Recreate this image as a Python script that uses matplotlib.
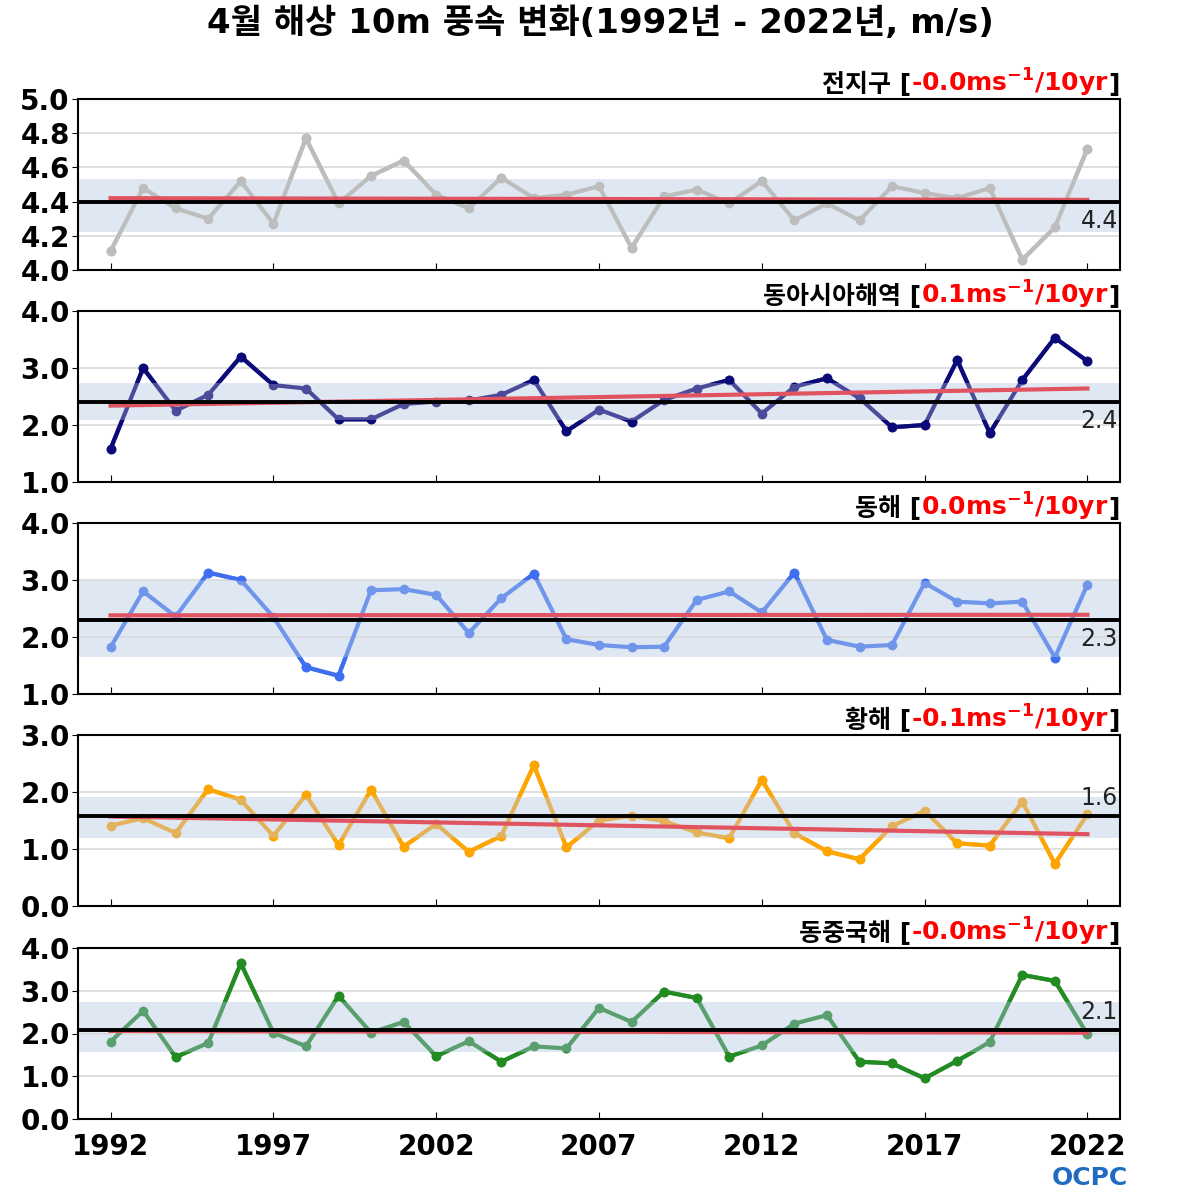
import matplotlib
matplotlib.use('Agg')
import matplotlib.pyplot as plt
import matplotlib.transforms as mtransforms
from matplotlib.patches import Rectangle
from matplotlib.offsetbox import TextArea, HPacker, AnchoredOffsetbox
import numpy as np

plt.rcParams['font.family'] = ['DejaVu Sans', 'Noto Sans CJK KR']
plt.rcParams['mathtext.fontset'] = 'dejavusans'
plt.rcParams['mathtext.default'] = 'bf'

years = np.arange(1992, 2023)

names = ['전지구', '동아시아해역', '동해', '황해', '동중국해']
trend_txt = ['-0.0', '0.1', '0.0', '-0.1', '-0.0']

glob = [4.11, 4.48, 4.36, 4.30, 4.52, 4.27, 4.77, 4.39, 4.55, 4.64, 4.44,
        4.36, 4.54, 4.42, 4.44, 4.49, 4.13, 4.43, 4.47, 4.39, 4.52, 4.29,
        4.39, 4.29, 4.49, 4.45, 4.42, 4.48, 4.06, 4.25, 4.71]
easia = [1.58, 3.00, 2.25, 2.53, 3.20, 2.70, 2.64, 2.10, 2.10, 2.37, 2.41,
         2.43, 2.53, 2.79, 1.89, 2.27, 2.06, 2.44, 2.64, 2.79, 2.20, 2.67,
         2.82, 2.47, 1.96, 2.00, 3.14, 1.86, 2.79, 3.53, 3.12]
esea = [1.82, 2.80, 2.36, 3.13, 3.00, 2.35, 1.47, 1.32, 2.82, 2.84, 2.74,
        2.07, 2.68, 3.11, 1.96, 1.86, 1.82, 1.83, 2.65, 2.80, 2.43, 3.13,
        1.95, 1.83, 1.86, 2.95, 2.62, 2.59, 2.62, 1.64, 2.92]
ysea = [1.41, 1.54, 1.28, 2.05, 1.86, 1.23, 1.95, 1.07, 2.04, 1.04, 1.44,
        0.95, 1.23, 2.47, 1.03, 1.50, 1.58, 1.49, 1.29, 1.19, 2.21, 1.28,
        0.96, 0.82, 1.40, 1.67, 1.10, 1.06, 1.83, 0.74, 1.61]
ecs = [1.81, 2.53, 1.45, 1.78, 3.64, 2.02, 1.70, 2.88, 2.02, 2.27, 1.47,
       1.82, 1.34, 1.70, 1.65, 2.60, 2.27, 2.98, 2.83, 1.46, 1.72, 2.23,
       2.43, 1.34, 1.30, 0.95, 1.36, 1.80, 3.37, 3.23, 1.98]
series = [glob, easia, esea, ysea, ecs]

means = [4.40, 2.40, 2.30, 1.58, 2.09]
band_lo = [4.22, 2.09, 1.65, 1.19, 1.57]
band_hi = [4.53, 2.74, 3.00, 1.92, 2.73]
trend_start = [4.42, 2.34, 2.38, 1.57, 2.06]
trend_end = [4.41, 2.64, 2.39, 1.26, 2.02]

ylims = [(4.0, 5.0), (1.0, 4.0), (1.0, 4.0), (0.0, 3.0), (0.0, 4.0)]
ysteps = [0.2, 1.0, 1.0, 1.0, 1.0]
dark_colors = ['#bdbdbd', '#0a0a78', '#3f6ef0', '#ffa500', '#228b22']
light_colors = ['#bdbdbd', '#4b4b9c', '#6f96ea', '#e2b25c', '#5a9f6e']

fig = plt.figure(figsize=(12, 12), dpi=100)
fig.text(0.5, 1 - 23 / 1200, '4월 해상 10m 풍속 변화(1992년 - 2022년, m/s)',
         ha='center', va='center', fontsize=24.5, fontweight='bold')

left = 78 / 1200
width = (1120 - 78) / 1200
h = 171 / 1200
tops = [99, 311, 523, 735, 948]

for i in range(5):
    bottom = 1 - (tops[i] + 171) / 1200
    ax = fig.add_axes([left, bottom, width, h])
    vals = np.array(series[i])
    m = means[i]
    lo = band_lo[i]
    hi = band_hi[i]

    ax.axhspan(lo, hi, color='#dfe8f2', zorder=0.2, lw=0)
    ax.grid(axis='y', color='#d9d9d9', lw=1.2)
    ax.set_axisbelow(True)

    # lighter colour inside the band, full colour outside it
    ax.plot(years, vals, color=light_colors[i], lw=3, marker='o', ms=6, zorder=3)
    for rect in [Rectangle((1980, hi), 60, 100, transform=ax.transData),
                 Rectangle((1980, lo - 100), 60, 100, transform=ax.transData)]:
        ln, = ax.plot(years, vals, color=dark_colors[i], lw=3, marker='o', ms=6, zorder=4)
        ln.set_clip_path(rect)

    ax.plot([years[0], years[-1]], [trend_start[i], trend_end[i]],
            color='#e05461', lw=3, zorder=5)
    ax.axhline(m, color='black', lw=2.8, zorder=6)

    trans = mtransforms.blended_transform_factory(ax.transAxes, ax.transData)
    if trend_end[i] >= m:
        ax.annotate(f'{m:.1f}', (0.998, m), xycoords=trans, xytext=(0, -5),
                    textcoords='offset points', ha='right', va='top',
                    fontsize=17, color='#222222', zorder=7)
    else:
        ax.annotate(f'{m:.1f}', (0.998, m), xycoords=trans, xytext=(0, 4),
                    textcoords='offset points', ha='right', va='bottom',
                    fontsize=17, color='#222222', zorder=7)

    ax.set_xlim(1991, 2023)
    ax.set_ylim(*ylims[i])
    ax.set_yticks(np.arange(ylims[i][0], ylims[i][1] + 0.001, ysteps[i]))
    ax.yaxis.set_major_formatter(plt.FormatStrFormatter('%.1f'))
    ax.set_xticks(np.arange(1992, 2023, 5))
    ax.tick_params(axis='y', direction='out', length=4, pad=2,
                   labelsize=20)
    ax.tick_params(axis='x', direction='in', length=5, pad=10, labelsize=20)
    for lab in ax.get_yticklabels() + ax.get_xticklabels():
        lab.set_fontweight('bold')
    if i < 4:
        ax.set_xticklabels([])
    for sp in ax.spines.values():
        sp.set_linewidth(1.5)

    parts = [
        TextArea(names[i] + ' [', textprops=dict(color='black', fontsize=18, fontweight='bold')),
        TextArea(trend_txt[i] + 'ms$^{-1}$/10yr',
                 textprops=dict(color='red', fontsize=18, fontweight='bold')),
        TextArea(']', textprops=dict(color='black', fontsize=18, fontweight='bold')),
    ]
    box = HPacker(children=parts, align='baseline', pad=0, sep=0)
    anc = AnchoredOffsetbox(loc='lower right', child=box, pad=0, borderpad=0,
                            frameon=False, bbox_to_anchor=(1.0, 1.0),
                            bbox_transform=ax.transAxes)
    ax.add_artist(anc)

fig.text(1090 / 1200, 1 - 1178 / 1200, 'OCPC', ha='center', va='center',
         fontsize=18, fontweight='bold', color='#1f6cc0')

fig.savefig('out.png', dpi=100)
